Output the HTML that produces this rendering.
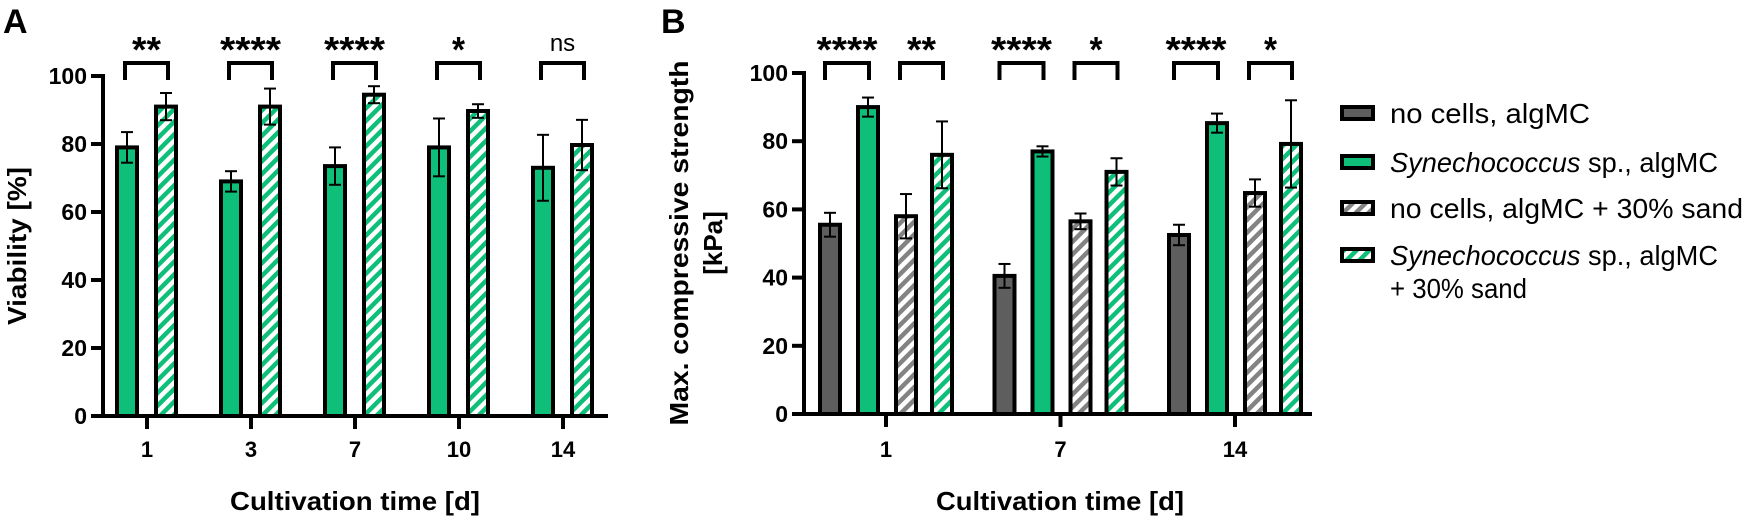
<!DOCTYPE html>
<html><head><meta charset="utf-8"><style>
html,body{margin:0;padding:0;background:#fff;}
svg{display:block;font-family:"Liberation Sans",Arial,sans-serif;}
</style></head><body>
<svg id="fig" width="1748" height="520" viewBox="0 0 1748 520" xmlns="http://www.w3.org/2000/svg">
<defs>
<pattern id="hg" patternUnits="userSpaceOnUse" width="9" height="9" patternTransform="rotate(45)"><rect width="9" height="9" fill="#ffffff"/><rect width="4.5" height="9" fill="#0dbf79"/></pattern>
<pattern id="hk" patternUnits="userSpaceOnUse" width="9" height="9" patternTransform="rotate(45)"><rect width="9" height="9" fill="#ffffff"/><rect width="4.5" height="9" fill="#838383"/></pattern>
</defs>
<g id="A"></g>
<g id="B"></g>
<g id="L"></g>
</svg>
<script>
// Panel A data
const aCats = ["1","3","7","10","14"];
const aSolid = [79, 69, 73.5, 79, 73];
const aSolidErr = [4.5, 3, 5.5, 8.5, 9.7];
const aHatch = [91, 91, 94.5, 89.7, 79.7];
const aHatchErr = [4, 5.3, 2.5, 2, 7.4];
const aSig = ["**","****","****","*","ns"];
const aTicks = [0,20,40,60,80,100];
// Panel B data
const bCats = ["1","7","14"];
const bDark = [55.5, 40.5, 52.5];
const bDarkErr = [3.5, 3.5, 3];
const bGreen = [90, 77, 85.3];
const bGreenErr = [2.8, 1.5, 2.8];
const bGrayH = [58, 56.5, 64.8];
const bGrayHErr = [6.5, 2.3, 4];
const bGreenH = [76, 71, 79.2];
const bGreenHErr = [9.8, 4, 12.8];
const bSig1 = ["****","****","****"];
const bSig2 = ["**","*","*"];
const bTicks = [0,20,40,60,80,100];

const NS="http://www.w3.org/2000/svg";
function mk(parent, tag, attrs, txt){
  const e=document.createElementNS(NS,tag);
  for(const k in attrs) e.setAttribute(k,attrs[k]);
  if(txt!==undefined) e.textContent=txt;
  parent.appendChild(e); return e;
}
const GREEN="#0dbf79", DARK="#5e5e5e";

function bar(g, cx, v, y, base, fill, name){
  const r=mk(g,'rect',{x:cx-10,y:y(v),width:20,height:base-y(v),fill:fill,stroke:'#000','stroke-width':4});
  
  
}
function err(g, cx, v, e, y, name){
  const eg=mk(g,'g',{stroke:'#000','stroke-width':2});
  
  
  mk(eg,'line',{x1:cx,x2:cx,y1:y(v+e),y2:y(v-e)});
  mk(eg,'line',{x1:cx-6,x2:cx+6,y1:y(v+e),y2:y(v+e)});
  mk(eg,'line',{x1:cx-6,x2:cx+6,y1:y(v-e),y2:y(v-e)});
}
function sig(g, x1, x2, label, name){
  const sg=mk(g,'g',{});
  
  
  mk(sg,'path',{d:`M${x1},80 V63 H${x2} V80`,fill:'none',stroke:'#000','stroke-width':4});
  const cx=(x1+x2)/2;
  if(label==='ns'){
    mk(sg,'text',{x:cx,y:51,'text-anchor':'middle','font-size':24},label);
  } else {
    const n=label.length;
    mk(sg,'text',{x:cx,y:62,'text-anchor':'middle','font-size':36,'font-weight':'bold',textLength:n*16-3,lengthAdjust:'spacingAndGlyphs'},label);
  }
}
function axes(g, ax, x0, x1, base, y, ticks, cats, catX){
  const a=mk(g,'g',{stroke:'#000','stroke-width':4,fill:'none'});
  
  
  mk(a,'line',{x1:ax,x2:ax,y1:y(100)-2,y2:base+2});
  mk(a,'line',{x1:ax-12,x2:x1,y1:base,y2:base});
  ticks.forEach(t=>{
    mk(a,'line',{x1:ax-12,x2:ax,y1:y(t),y2:y(t)});
    const tl=mk(g,'text',{x:ax-16,y:y(t)+8,'text-anchor':'end','font-size':23,'font-weight':'bold'},String(t));
    
    
  });
  cats.forEach((c,i)=>{
    mk(a,'line',{x1:catX(i),x2:catX(i),y1:base,y2:base+13});
    const cl=mk(g,'text',{x:catX(i),y:457,'text-anchor':'middle','font-size':22,'font-weight':'bold'},c);
    
    
  });
}

// ---- Panel A ----
(function(){
  const g=document.getElementById('A');
  const base=416, top=76;
  const y=v=>base-(base-top)*v/100;
  const catX=i=>147+104*i;
  aCats.forEach((c,i)=>{
    const cx=catX(i);
    bar(g,cx-20,aSolid[i],y,base,GREEN,'bar-cells-'+c);
    bar(g,cx+19,aHatch[i],y,base,'url(#hg)','bar-cells-sand-'+c);
    err(g,cx-20,aSolid[i],aSolidErr[i],y,'error-bar-cells-'+c);
    err(g,cx+19,aHatch[i],aHatchErr[i],y,'error-bar-cells-sand-'+c);
    sig(g,cx-22,cx+21,aSig[i],'significance-'+c);
  });
  axes(g,103,103,608,base,y,aTicks,aCats,catX);
  const t1=mk(g,'text',{x:3,y:33,'font-size':34,'font-weight':'bold'},'A');
  
  const t2=mk(g,'text',{x:355,y:510,'text-anchor':'middle','font-size':26,'font-weight':'bold',textLength:250,lengthAdjust:'spacingAndGlyphs'},'Cultivation time [d]');
  
  const t3=mk(g,'text',{x:0,y:0,'text-anchor':'middle','font-size':26,'font-weight':'bold',transform:'translate(26,246) rotate(-90)',textLength:158,lengthAdjust:'spacingAndGlyphs'},'Viability [%]');
  
})();

// ---- Panel B ----
(function(){
  const g=document.getElementById('B');
  const base=414, top=73;
  const y=v=>base-(base-top)*v/100;
  const catX=i=>886+174.5*i;
  bCats.forEach((c,i)=>{
    const cx=catX(i);
    bar(g,cx-56,bDark[i],y,base,DARK,'bar-no-cells-'+c);
    bar(g,cx-18,bGreen[i],y,base,GREEN,'bar-cells-'+c);
    bar(g,cx+20,bGrayH[i],y,base,'url(#hk)','bar-no-cells-sand-'+c);
    bar(g,cx+56,bGreenH[i],y,base,'url(#hg)','bar-cells-sand-'+c);
    err(g,cx-56,bDark[i],bDarkErr[i],y,'error-no-cells-'+c);
    err(g,cx-18,bGreen[i],bGreenErr[i],y,'error-cells-'+c);
    err(g,cx+20,bGrayH[i],bGrayHErr[i],y,'error-no-cells-sand-'+c);
    err(g,cx+56,bGreenH[i],bGreenHErr[i],y,'error-cells-sand-'+c);
    sig(g,cx-61,cx-17,bSig1[i],'significance-algmc-'+c);
    sig(g,cx+14,cx+57,bSig2[i],'significance-sand-'+c);
  });
  axes(g,804,804,1312,base,y,bTicks,bCats,catX);
  const t1=mk(g,'text',{x:661,y:33,'font-size':34,'font-weight':'bold'},'B');
  
  const t2=mk(g,'text',{x:1060,y:510,'text-anchor':'middle','font-size':26,'font-weight':'bold',textLength:248,lengthAdjust:'spacingAndGlyphs'},'Cultivation time [d]');
  
  const t3=mk(g,'text',{x:0,y:0,'text-anchor':'middle','font-size':26,'font-weight':'bold',transform:'translate(688,243) rotate(-90)',textLength:365,lengthAdjust:'spacingAndGlyphs'},'Max. compressive strength');
  
  const t4=mk(g,'text',{x:0,y:0,'text-anchor':'middle','font-size':26,'font-weight':'bold',transform:'translate(722,243) rotate(-90)'},'[kPa]');
  
})();

// ---- Legend ----
(function(){
  const g=document.getElementById('L');
  const rows=[
    {fill:DARK, parts:[['no cells, algMC',false]], cy:113, w:200},
    {fill:GREEN, parts:[['Synechococcus',true],[' sp., algMC',false]], cy:162, w:328},
    {fill:'url(#hk)', parts:[['no cells, algMC + 30% sand',false]], cy:208, w:353},
    {fill:'url(#hg)', parts:[['Synechococcus',true],[' sp., algMC',false]], cy:255, w:328}
  ];
  rows.forEach((r,i)=>{
    const eg=mk(g,'g',{});
    
    
    mk(eg,'rect',{x:1342,y:r.cy-6,width:31,height:12,fill:r.fill,stroke:'#000','stroke-width':4});
    const t=mk(eg,'text',{x:1390,y:r.cy+10,'font-size':28,textLength:r.w,lengthAdjust:'spacingAndGlyphs'});
    r.parts.forEach(p=>{ mk(t,'tspan',{'font-style':p[1]?'italic':'normal'},p[0]); });
  });
  const t=mk(g,'text',{x:1390,y:298,'font-size':28,textLength:137,lengthAdjust:'spacingAndGlyphs'},'+ 30% sand');
  
  
})();
</script>
</body></html>
